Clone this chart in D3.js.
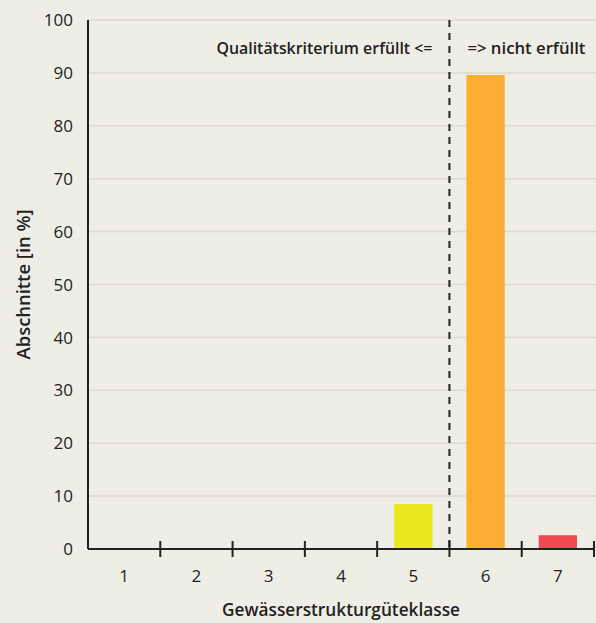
<!DOCTYPE html>
<html>
<head>
<meta charset="utf-8">
<script src="https://cdn.jsdelivr.net/npm/d3@7"></script>
<style>
  body { margin: 0; background: #efeee6; }
  svg { display: block; }
  text { font-family: "Open Sans", "Noto Sans", sans-serif; fill: #222; }
</style>
</head>
<body>
<div id="chart"></div>
<script>
const classes = ["1", "2", "3", "4", "5", "6", "7"];
const shares = [0, 0, 0, 0, 8.5, 89.6, 2.6];
const barColors = ["#e9e81c", "#e9e81c", "#e9e81c", "#e9e81c", "#e9e81c", "#fbae32", "#ef4850"];
const yTicks = [0, 10, 20, 30, 40, 50, 60, 70, 80, 90, 100];

const width = 596, height = 623;
const margin = {top: 20, right: 2, bottom: 74, left: 88};

const svg = d3.select("#chart").append("svg")
  .attr("width", width)
  .attr("height", height);

const x = d3.scaleBand()
  .domain(classes)
  .range([margin.left, width - margin.right])
  .paddingInner(0.47)
  .paddingOuter(0.235);

const y = d3.scaleLinear()
  .domain([0, 100])
  .range([height - margin.bottom, margin.top]);

// grid lines
svg.append("g")
  .selectAll("line")
  .data(yTicks.filter(d => d > 0))
  .join("line")
    .attr("x1", margin.left)
    .attr("x2", width)
    .attr("y1", d => y(d))
    .attr("y2", d => y(d))
    .attr("stroke", "#dcdacb")
    .attr("stroke-width", 1.5);

// y tick labels
svg.append("g")
  .selectAll("text")
  .data(yTicks)
  .join("text")
    .attr("x", margin.left - 15)
    .attr("y", d => y(d))
    .attr("dy", "0.36em")
    .attr("text-anchor", "end")
    .attr("font-size", 17)
    .text(d => d);

// bars
svg.append("g")
  .selectAll("rect")
  .data(classes)
  .join("rect")
    .attr("x", d => x(d))
    .attr("width", x.bandwidth())
    .attr("y", (d, i) => y(shares[i]))
    .attr("height", (d, i) => y(0) - y(shares[i]))
    .attr("fill", (d, i) => barColors[i]);

// dashed threshold between class 5 and 6
const step = x.step();
const gap = (step - x.bandwidth()) / 2;
const boundary = x("6") - gap;
svg.append("line")
  .attr("x1", boundary).attr("x2", boundary)
  .attr("y1", margin.top).attr("y2", y(0))
  .attr("stroke", "#222")
  .attr("stroke-width", 2)
  .attr("stroke-dasharray", "7,6");

// axes lines
svg.append("line")
  .attr("x1", margin.left).attr("x2", margin.left)
  .attr("y1", margin.top).attr("y2", y(0))
  .attr("stroke", "#222").attr("stroke-width", 2);

svg.append("line")
  .attr("x1", margin.left).attr("x2", width - margin.right)
  .attr("y1", y(0)).attr("y2", y(0))
  .attr("stroke", "#222").attr("stroke-width", 2);

// x ticks at band boundaries
svg.append("g")
  .selectAll("line")
  .data(classes)
  .join("line")
    .attr("x1", d => x(d) + x.bandwidth() + gap)
    .attr("x2", d => x(d) + x.bandwidth() + gap)
    .attr("y1", y(0) - 8)
    .attr("y2", y(0) + 8)
    .attr("stroke", "#222")
    .attr("stroke-width", 2);

// x tick labels
svg.append("g")
  .selectAll("text")
  .data(classes)
  .join("text")
    .attr("x", d => x(d) + x.bandwidth() / 2)
    .attr("y", y(0) + 33)
    .attr("text-anchor", "middle")
    .attr("font-size", 17)
    .text(d => d);

// condensed bold labels
function label(sel, txt, len, size) {
  return sel.attr("font-size", size)
    .attr("font-weight", 600)
    .attr("textLength", len)
    .attr("lengthAdjust", "spacingAndGlyphs")
    .text(txt);
}

label(svg.append("text")
  .attr("x", boundary - 17 - 216)
  .attr("y", 54), "Qualitätskriterium erfüllt  <=", 216, 16);

label(svg.append("text")
  .attr("x", boundary + 18)
  .attr("y", 54), "=>  nicht erfüllt", 118, 16);

// axis titles
label(svg.append("text")
  .attr("transform", `translate(30,${(margin.top + y(0)) / 2 + 75}) rotate(-90)`), "Abschnitte [in %]", 150, 18);

label(svg.append("text")
  .attr("x", 222)
  .attr("y", 616), "Gewässerstrukturgüteklasse", 238, 18);
</script>
</body>
</html>
